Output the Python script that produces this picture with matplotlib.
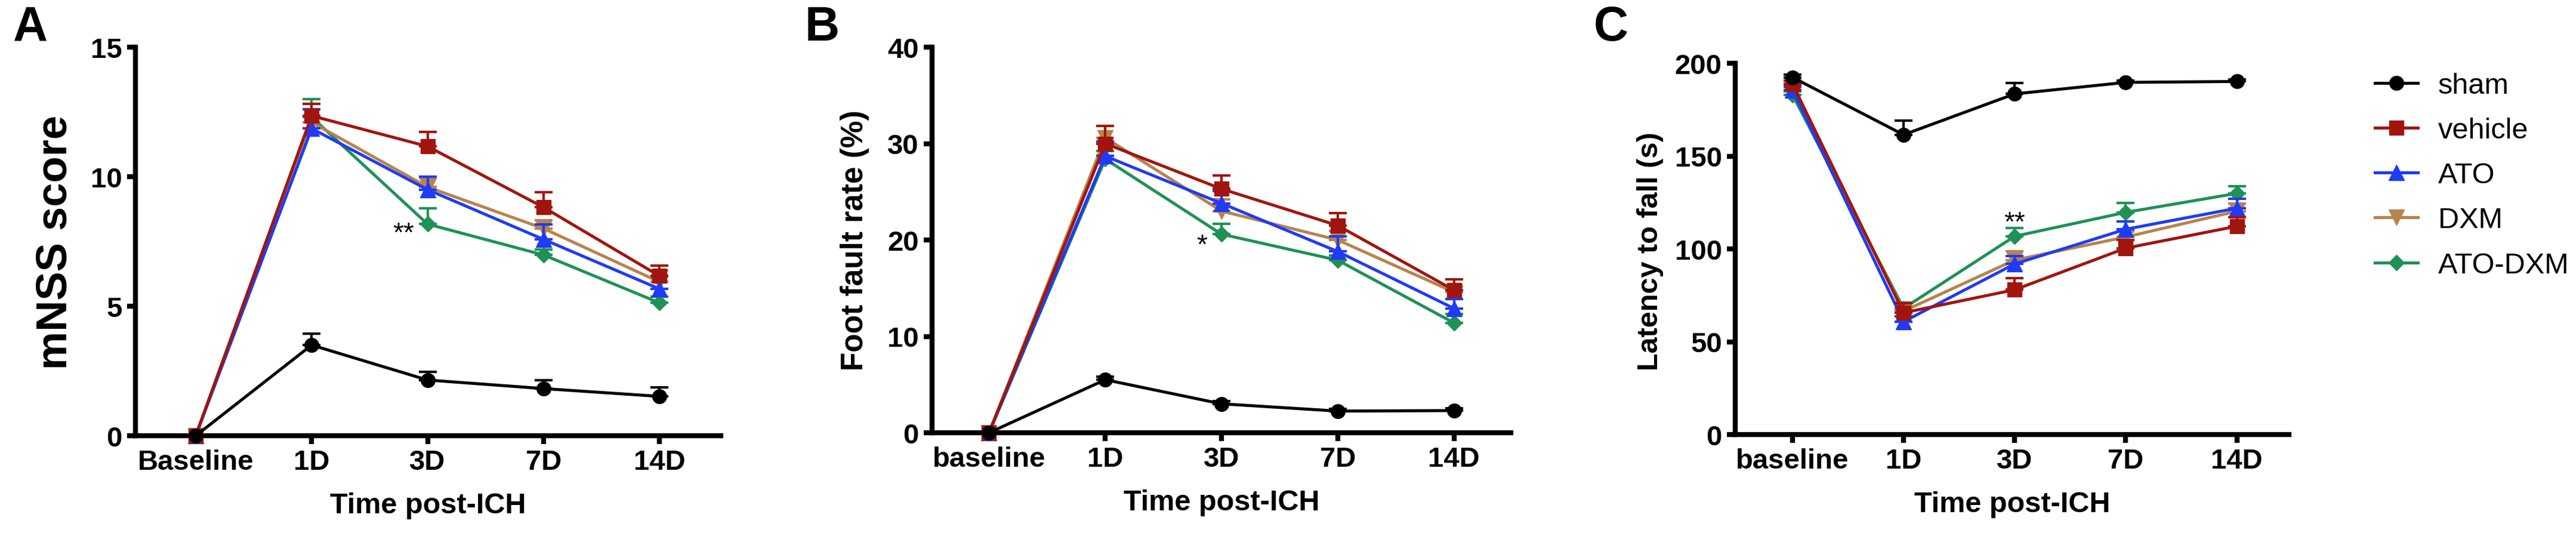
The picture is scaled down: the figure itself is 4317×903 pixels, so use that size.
import numpy as np
import matplotlib
matplotlib.use("Agg")
import matplotlib.pyplot as plt
from matplotlib.lines import Line2D

plt.rcParams['font.family'] = ['Liberation Sans', 'DejaVu Sans']

W, H = 4317, 904

# ---- data ----
groups = ['sham', 'vehicle', 'ATO', 'DXM', 'ATO-DXM']
colors = ['#000000', '#A1150E', '#1F3BF5', '#B7834C', '#1E9157']
markers = ['o', 's', '^', 'v', 'D']
msizes = [17, 17.5, 19, 19, 13.5]

cats_a = ['Baseline', '1D', '3D', '7D', '14D']
cats_bc = ['baseline', '1D', '3D', '7D', '14D']

# panel A: mNSS score
mnss = {
    'sham':    [0, 3.50, 2.15, 1.82, 1.52],
    'vehicle': [0, 12.35, 11.17, 8.82, 6.17],
    'ATO':     [0, 11.86, 9.50, 7.58, 5.67],
    'DXM':     [0, 12.10, 9.60, 8.00, 5.94],
    'ATO-DXM': [0, 12.30, 8.17, 6.98, 5.13],
}
mnss_err = {
    'sham':    [0, 0.45, 0.32, 0.32, 0.35],
    'vehicle': [0, 0.45, 0.55, 0.58, 0.40],
    'ATO':     [0, 0.75, 0.50, 0.57, 0.48],
    'DXM':     [0, 0.50, 0.35, 0.32, 0.45],
    'ATO-DXM': [0, 0.70, 0.60, 0.20, 0.25],
}

# panel B: foot fault rate
foot = {
    'sham':    [0, 5.5, 3.0, 2.25, 2.3],
    'vehicle': [0, 30.0, 25.3, 21.5, 14.8],
    'ATO':     [0, 28.7, 23.8, 18.8, 12.9],
    'DXM':     [0, 30.6, 23.0, 20.0, 14.6],
    'ATO-DXM': [0, 28.4, 20.6, 17.9, 11.4],
}
foot_err = {
    'sham':    [0, 0.3, 0.3, 0.2, 0.25],
    'vehicle': [0, 1.8, 1.4, 1.3, 1.1],
    'ATO':     [0, 1.5, 1.3, 1.6, 1.0],
    'DXM':     [0, 1.2, 1.2, 0.9, 0.6],
    'ATO-DXM': [0, 0.8, 1.1, 0.5, 0.9],
}

# panel C: latency to fall
latency = {
    'sham':    [192.4, 161.5, 183.5, 189.7, 190.2],
    'vehicle': [188.8, 65.6, 78.0, 100.4, 112.2],
    'ATO':     [185.6, 60.8, 91.9, 110.6, 121.9],
    'DXM':     [187.0, 66.5, 94.0, 106.4, 120.3],
    'ATO-DXM': [183.0, 68.0, 106.8, 119.7, 129.9],
}
latency_err = {
    'sham':    [1.5, 7.7, 5.8, 1.0, 1.0],
    'vehicle': [2.0, 5.0, 6.3, 4.4, 4.8],
    'ATO':     [2.0, 3.0, 4.3, 4.3, 5.1],
    'DXM':     [2.0, 3.0, 4.8, 3.0, 4.2],
    'ATO-DXM': [2.0, 3.0, 4.4, 5.1, 4.0],
}

fig = plt.figure(figsize=(W / 100, H / 100), dpi=100)


def px_axes(left, right, top, bottom):
    return fig.add_axes([left / W, 1 - bottom / H, (right - left) / W, (bottom - top) / H])


def draw_panel(ax, cats, vals, errs, ylim, yticks, xlim):
    x = np.arange(len(cats))
    # sham last so it sits on top
    order = [4, 3, 2, 1, 0]
    for i in order:
        g = groups[i]
        y = np.array(vals[g])
        e = np.array(errs[g])
        ax.errorbar(x, y, yerr=[np.zeros_like(e), e], color=colors[i],
                    marker=markers[i], ms=msizes[i], lw=3.6, elinewidth=3,
                    capsize=11, capthick=3, clip_on=False, zorder=3 + (4 - i))
    ax.set_xlim(*xlim)
    ax.set_ylim(*ylim)
    ax.set_xticks(x)
    ax.set_xticklabels(cats)
    ax.set_yticks(yticks)
    for s in ['top', 'right']:
        ax.spines[s].set_visible(False)
    for s in ['left', 'bottom']:
        ax.spines[s].set_linewidth(6)
    ax.tick_params(direction='out', length=10, width=6, labelsize=34, pad=6)
    for lab in ax.get_xticklabels() + ax.get_yticklabels():
        lab.set_fontweight('bold')
    ax.set_xlabel('Time post-ICH', fontsize=35, fontweight='bold', labelpad=20)


axA = px_axes(227, 1208, 80, 731)
draw_panel(axA, cats_a, mnss, mnss_err, (0, 15), [0, 5, 10, 15], (-0.52, 4.53))
axA.set_ylabel('mNSS score', fontsize=52, fontweight='bold', va='center')
axA.yaxis.set_label_coords(-0.137, 0.5)
axA.text(2 - 0.21, 7.8, '**', fontsize=33, ha='center', va='center')

axB = px_axes(1562, 2532, 80, 726)
draw_panel(axB, cats_bc, foot, foot_err, (0, 40), [0, 10, 20, 30, 40], (-0.49, 4.49))
axB.set_ylabel('Foot fault rate (%)', fontsize=37, fontweight='bold', va='center')
axB.yaxis.set_label_coords(-0.134, 0.5)
axB.text(1.83, 19.4, '*', fontsize=33, ha='center', va='center')

axC = px_axes(2908, 3836, 107, 729)
draw_panel(axC, cats_bc, latency, latency_err, (0, 200), [0, 50, 100, 150, 200], (-0.516, 4.47))
axC.set_ylabel('Latency to fall (s)', fontsize=35, fontweight='bold', va='center')
axC.yaxis.set_label_coords(-0.154, 0.495)
axC.text(2, 114, '**', fontsize=33, ha='center', va='center')

# panel letters
for lx, letter in [(22, 'A'), (1349, 'B'), (2671, 'C')]:
    fig.text(lx / W, 1 - 68 / H, letter, fontsize=58, fontweight='bold', va='baseline')

# legend
handles = [Line2D([], [], color=colors[i], marker=markers[i], ms=msizes[i], lw=3.6)
           for i in range(len(groups))]
fig.legend(handles, groups, loc='upper left', bbox_to_anchor=(3980 / W, 1 - 122 / H),
           frameon=False, fontsize=35, handlelength=1.48, handletextpad=0.7,
           labelspacing=0.62, borderpad=0, borderaxespad=0)

fig.savefig('out.png', dpi=100)
